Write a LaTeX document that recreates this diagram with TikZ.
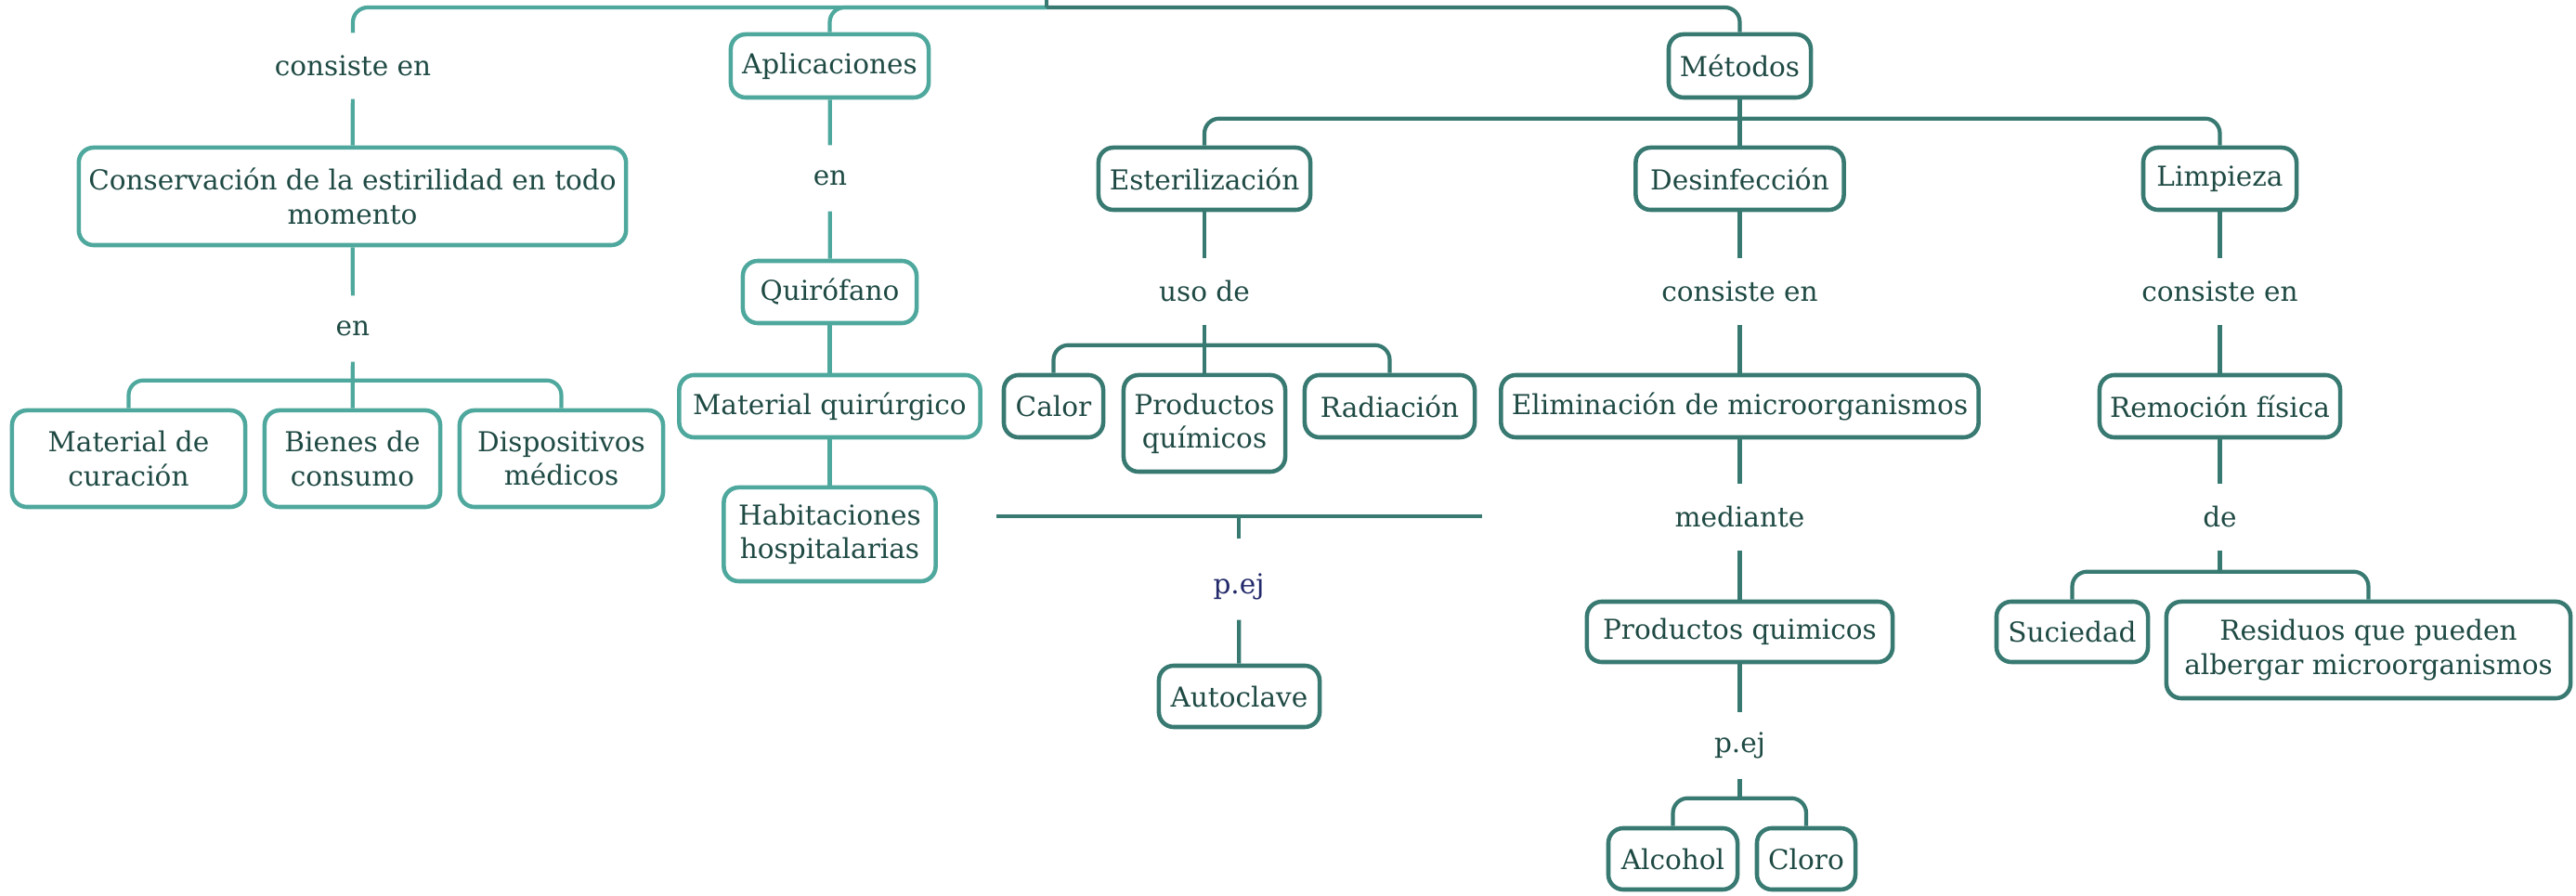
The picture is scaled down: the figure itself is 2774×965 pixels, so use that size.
\documentclass[tikz,border=0pt]{standalone}
\usepackage{fontspec}
\setmainfont{DejaVu Serif}
\definecolor{lite}{HTML}{4FA89D}
\definecolor{deep}{HTML}{387A72}
\definecolor{ink}{HTML}{1F4A44}
\definecolor{navy}{HTML}{22296A}
\tikzset{
  concept/.style={draw=#1, rounded corners=0.16cm, line width=1.3pt, fill=white,
    text=ink, align=center, inner sep=0pt},
  concept/.default=deep,
  linkword/.style={text=ink, minimum height=0.7cm, inner sep=0pt},
  wire/.style={line width=1.2pt},
  branch/.style={line width=1.2pt, rounded corners=0.16cm}
}
\begin{document}
\begin{tikzpicture}[x=0.01cm, y=-0.01cm, font=\fontsize{8.4}{10.3}\selectfont]
\useasboundingbox (0,0) rectangle (2774,965);
% top of the map
\coordinate (root) at (1127,0);
\coordinate (top) at (1127,8);
% left part, light colour
\node[linkword] (cons1) at (380,71) {consiste en};
\node[concept=lite, minimum width=5.89cm, minimum height=1.05cm] (conserv) at (379.5,211.5) {Conservación de la estirilidad en todo\\momento};
\node[linkword] (en1) at (380,354) {en};
\node[concept=lite, minimum width=2.51cm, minimum height=1.04cm] (matcur) at (138.5,494) {Material de\\curación};
\node[concept=lite, minimum width=1.89cm, minimum height=1.04cm] (bienes) at (379.5,494) {Bienes de\\consumo};
\node[concept=lite, minimum width=2.19cm, minimum height=1.04cm] (dispos) at (604.5,494) {Dispositivos\\médicos};
\node[concept=lite, minimum width=2.13cm, minimum height=0.68cm] (aplic) at (893.5,71) {Aplicaciones};
\node[linkword] (en2) at (894,192) {en};
\node[concept=lite, minimum width=1.87cm, minimum height=0.67cm] (quiro) at (893.5,314.5) {Quirófano};
\node[concept=lite, minimum width=3.24cm, minimum height=0.67cm] (matq) at (893.5,437.5) {Material quirúrgico};
\node[concept=lite, minimum width=2.28cm, minimum height=1.01cm] (habit) at (893.5,575.5) {Habitaciones\\hospitalarias};
% right part, deep colour
\node[concept, minimum width=1.53cm, minimum height=0.68cm] (metodos) at (1873.5,71) {Métodos};
\node[concept, minimum width=2.28cm, minimum height=0.67cm] (ester) at (1297,192.5) {Esterilización};
\node[concept, minimum width=2.24cm, minimum height=0.67cm] (desinf) at (1873.5,192.5) {Desinfección};
\node[concept, minimum width=1.65cm, minimum height=0.67cm] (limp) at (2390.5,192.5) {Limpieza};
\node[linkword] (usode) at (1297,314) {uso de};
\node[concept, minimum width=1.07cm, minimum height=0.67cm] (calor) at (1134.5,437.5) {Calor};
\node[concept, minimum width=1.74cm, minimum height=1.04cm] (prodq1) at (1297,456) {Productos\\químicos};
\node[concept, minimum width=1.83cm, minimum height=0.67cm] (radia) at (1496.5,437.5) {Radiación};
\coordinate (barL) at (1073,556);
\coordinate (barR) at (1596,556);
\coordinate (barM) at (1334,556);
\node[linkword, text=navy] (pej1) at (1334,632) {p.ej};
\node[concept, minimum width=1.73cm, minimum height=0.66cm] (autoc) at (1334.5,750) {Autoclave};
\node[linkword] (cons2) at (1873.5,314) {consiste en};
\node[concept, minimum width=5.14cm, minimum height=0.67cm] (elim) at (1873.5,437.5) {Eliminación de microorganismos};
\node[linkword] (media) at (1873.5,557) {mediante};
\node[concept, minimum width=3.29cm, minimum height=0.65cm] (prodq2) at (1873.5,680.5) {Productos quimicos};
\node[linkword] (pej2) at (1873.5,803) {p.ej};
\node[concept, minimum width=1.39cm, minimum height=0.66cm] (alcohol) at (1801.5,925) {Alcohol};
\node[concept, minimum width=1.06cm, minimum height=0.66cm] (cloro) at (1945,925) {Cloro};
\node[linkword] (cons3) at (2390.5,314) {consiste en};
\node[concept, minimum width=2.59cm, minimum height=0.67cm] (remoc) at (2390.5,437.5) {Remoción física};
\node[linkword] (de) at (2390.5,557) {de};
\node[concept, minimum width=1.63cm, minimum height=0.65cm] (sucied) at (2231.5,680.5) {Suciedad};
\node[concept, minimum width=4.35cm, minimum height=1.04cm] (resid) at (2550.5,700) {Residuos que pueden\\albergar microorganismos};
% connectors
\begin{scope}[lite]
  \draw[branch] (top) -| (cons1);
  \draw[branch] (top) -| (aplic.north);
  \draw[wire] (cons1) -- (conserv);
  \draw[wire] (conserv) -- (en1);
  \draw[wire] (en1) -- (bienes);
  \draw[branch] (matcur.north) -- ++(0,-30) -| (dispos.north);
  \draw[wire] (aplic) -- (en2);
  \draw[wire] (en2) -- (quiro);
  \draw[wire] (quiro) -- (matq);
  \draw[wire] (matq) -- (habit);
\end{scope}
\begin{scope}[deep]
  \draw[wire] (root) -- (top);
  \draw[branch] (top) -| (metodos.north);
  \draw[wire] (metodos) -- (desinf);
  \draw[branch] (ester.north) -- ++(0,-29) -| (limp.north);
  \draw[wire] (ester) -- (usode);
  \draw[wire] (usode) -- (prodq1);
  \draw[branch] (calor.north) -- ++(0,-30) -| (radia.north);
  \draw[line width=1.4pt] (barL) -- (barR);
  \draw[wire] (barM) -- ++(0,24);
  \draw[wire] (pej1) -- (autoc);
  \draw[wire] (desinf) -- (cons2);
  \draw[wire] (cons2) -- (elim);
  \draw[wire] (elim) -- (media);
  \draw[wire] (media) -- (prodq2);
  \draw[wire] (prodq2) -- (pej2);
  \draw[wire] (pej2) -- ++(0,59);
  \draw[branch] (alcohol.north) -- ++(0,-30) -| (cloro.north);
  \draw[wire] (limp) -- (cons3);
  \draw[wire] (cons3) -- (remoc);
  \draw[wire] (remoc) -- (de);
  \draw[wire] (de) -- ++(0,61);
  \draw[branch] (sucied.north) -- ++(0,-30) -| (resid.north);
\end{scope}
\end{tikzpicture}
\end{document}
